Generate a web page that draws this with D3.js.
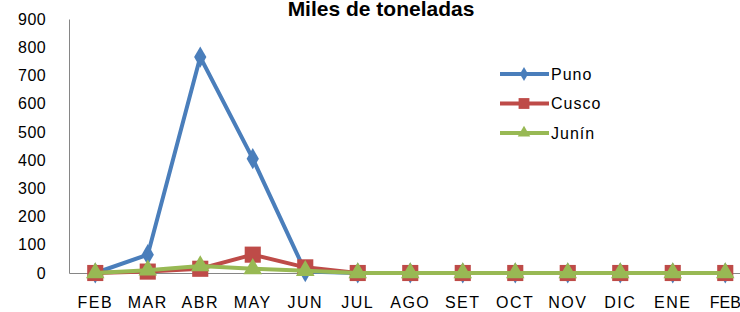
<!DOCTYPE html>
<html>
<head>
<meta charset="utf-8">
<script src="https://cdn.jsdelivr.net/npm/d3@7"></script>
<style>
  body { margin: 0; background: #fff; }
  svg { font-family: Arial, "Liberation Sans", sans-serif; }
</style>
</head>
<body>
<div class="chart"></div>
<script>
const months = ["FEB", "MAR", "ABR", "MAY", "JUN", "JUL", "AGO", "SET", "OCT", "NOV", "DIC", "ENE", "FEB "];
const puno  = [0, 65, 765, 405, 5, 0, 0, 0, 0, 0, 0, 0, 0];
const cusco = [0, 5, 15, 65, 20, 0, 0, 0, 0, 0, 0, 0, 0];
const junin = [0, 10, 25, 15, 8, 0, 0, 0, 0, 0, 0, 0, 0];
const yTicks = [0, 100, 200, 300, 400, 500, 600, 700, 800, 900];

var cfg = {
  width: 740,
  height: 312,
  left: 69,
  step: 52.5,
  top: 19,
  bottom: 273
};

var series = [
  {name: "Puno",  values: puno,  color: "#4a7ebb", shape: d3.symbolDiamond, size: 130},
  {name: "Cusco", values: cusco, color: "#be4b48", shape: d3.symbolSquare,  size: 260},
  {name: "Junín", values: junin, color: "#98b954", shape: d3.symbolTriangle, size: 150}
];

var x = d3.scaleBand()
    .domain(months)
    .range([cfg.left, cfg.left + cfg.step * months.length]);

var y = d3.scaleLinear()
    .domain([0, 900])
    .range([cfg.bottom, cfg.top]);

var svg = d3.select(".chart").append("svg")
    .attr("width", cfg.width)
    .attr("height", cfg.height);

// title, kept as high as possible (clipped in the original)
svg.append("text")
    .attr("x", 381)
    .attr("y", 16)
    .attr("text-anchor", "middle")
    .style("font-size", "21px")
    .style("font-weight", "bold")
    .text("Miles de toneladas");

// y axis
var yAxis = svg.append("g")
    .attr("transform", `translate(${cfg.left},0)`)
    .call(d3.axisLeft(y).tickValues(yTicks).tickSize(0).tickPadding(23));
yAxis.select(".domain").attr("stroke", "#868686");
yAxis.selectAll("text")
    .style("font-size", "16px")
    .style("letter-spacing", "0.4px")
    .attr("fill", "#000");

// x axis
var xAxis = svg.append("g")
    .attr("transform", `translate(0,${cfg.bottom})`)
    .call(d3.axisBottom(x).tickSize(0).tickPadding(24));
xAxis.select(".domain").attr("stroke", "#868686");
xAxis.selectAll("text")
    .style("font-size", "16px")
    .style("letter-spacing", (d, i) => i === months.length - 1 ? "0px" : "1.5px")
    .attr("fill", "#000");

var line = d3.line()
    .x((d, i) => x(months[i]) + x.bandwidth() / 2)
    .y(d => y(d));

// series in order, each line with its markers
series.forEach(s => {
  var g = svg.append("g");
  g.append("path")
      .attr("d", line(s.values))
      .attr("fill", "none")
      .attr("stroke", s.color)
      .attr("stroke-width", 4);
  g.selectAll(".mark")
      .data(s.values)
      .enter().append("path")
      .attr("class", "mark")
      .attr("transform", (d, i) => `translate(${x(months[i]) + x.bandwidth() / 2},${y(d)})`)
      .attr("d", d3.symbol().type(s.shape).size(s.size))
      .attr("fill", s.color);
});

// legend
var legend = svg.append("g")
    .attr("transform", "translate(500,74)");
series.forEach((s, i) => {
  var g = legend.append("g").attr("transform", `translate(0,${i * 29.5})`);
  g.append("line")
      .attr("x1", 0).attr("x2", 49)
      .attr("stroke", s.color)
      .attr("stroke-width", 4);
  g.append("path")
      .attr("transform", "translate(24,0)")
      .attr("d", d3.symbol().type(s.shape).size(s.size * 0.45))
      .attr("fill", s.color);
  g.append("text")
      .attr("x", 51)
      .attr("dy", "0.35em")
      .style("font-size", "16px")
      .style("letter-spacing", "1px")
      .text(s.name);
});
</script>
</body>
</html>
